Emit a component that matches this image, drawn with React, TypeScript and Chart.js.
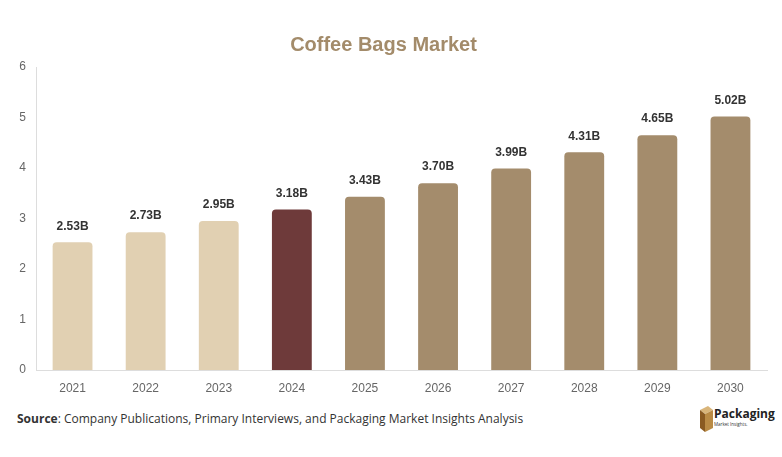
import React, { useEffect, useRef } from "react";
import { Chart, registerables } from "chart.js";

Chart.register(...registerables);

const years = ["2021", "2022", "2023", "2024", "2025", "2026", "2027", "2028", "2029", "2030"];
const values = [2.53, 2.73, 2.95, 3.18, 3.43, 3.7, 3.99, 4.31, 4.65, 5.02];
const barColors = [
  "#e1d0b2", "#e1d0b2", "#e1d0b2",
  "#6e3a3a",
  "#a48c6c", "#a48c6c", "#a48c6c", "#a48c6c", "#a48c6c", "#a48c6c",
];
const yTicks = [0, 1, 2, 3, 4, 5, 6];
const titleText = "Coffee Bags Market";

const labelPlugin = {
  id: "barLabels",
  afterDatasetsDraw(chart: any) {
    const ctx = chart.ctx;
    const meta = chart.getDatasetMeta(0);
    ctx.save();
    ctx.font = "bold 12px 'Liberation Sans', Arial, sans-serif";
    ctx.fillStyle = "#333333";
    ctx.textAlign = "center";
    ctx.textBaseline = "middle";
    meta.data.forEach((bar: any, i: number) => {
      ctx.fillText(values[i].toFixed(2) + "B", bar.x, bar.y - 16);
    });
    ctx.restore();
  },
};

export default function App() {
  const ref = useRef<HTMLCanvasElement>(null);
  useEffect(() => {
    const chart = new Chart(ref.current!, {
      type: "bar",
      data: {
        labels: years,
        datasets: [
          {
            data: values,
            backgroundColor: barColors,
            borderRadius: 4,
            categoryPercentage: 1,
            barPercentage: 0.545,
          },
        ],
      },
      options: {
        animation: false,
        responsive: false,
        maintainAspectRatio: false,
        layout: { padding: { left: 0, right: 15, top: 0, bottom: 0 } },
        plugins: {
          legend: { display: false },
          tooltip: { enabled: false },
          title: {
            display: true,
            text: titleText,
            color: "#a38b6a",
            font: { family: "'Liberation Sans', Arial, sans-serif", size: 20, weight: "bold" },
            padding: { top: 33, bottom: 10 },
          },
        },
        scales: {
          x: {
            grid: { display: false, drawTicks: false },
            border: { color: "#dddddd" },
            ticks: {
              color: "#666666",
              padding: 11,
              font: { family: "'Liberation Sans', Arial, sans-serif", size: 12 },
            },
            afterFit: (s: any) => { s.height = 30; },
          },
          y: {
            min: 0,
            max: 6,
            afterBuildTicks: (s: any) => { s.ticks = yTicks.map((v) => ({ value: v })); },
            grid: { display: false, drawTicks: false },
            border: { color: "#dddddd" },
            ticks: {
              color: "#666666",
              padding: 10,
              font: { family: "'Liberation Sans', Arial, sans-serif", size: 12 },
            },
            afterFit: (s: any) => { s.width = 36; },
          },
        },
      },
      plugins: [labelPlugin],
    } as any);
    return () => chart.destroy();
  }, []);

  return (
    <div style={{ position: "fixed", left: 0, top: 0, width: 782, height: 457, background: "#fff", overflow: "hidden" }}>
      <canvas ref={ref} width={782} height={400} style={{ position: "absolute", left: 0, top: 0 }} />
      <div
        style={{
          position: "absolute",
          left: 17,
          top: 410,
          fontFamily: "'Open Sans', sans-serif",
          fontSize: 12,
          color: "#333",
          whiteSpace: "nowrap",
        }}
      >
        <b>Source</b>: Company Publications, Primary Interviews, and Packaging Market Insights Analysis
      </div>
      <svg width={20} height={28} viewBox="0 0 20 28" style={{ position: "absolute", left: 696, top: 406 }}>
        <polygon points="4,4 12,0 17,4 9,8" fill="#d9b57a" />
        <polygon points="4,4 9,8 9,26 4,22" fill="#8a5a22" />
        <polygon points="9,8 17,4 17,22 9,26" fill="#b98a45" />
      </svg>
      <div style={{ position: "absolute", left: 714, top: 408, fontFamily: "'Open Sans', sans-serif", whiteSpace: "nowrap", lineHeight: 1 }}>
        <div style={{ fontSize: 12, fontWeight: 700, color: "#222" }}>Packaging</div>
        <div style={{ fontSize: 4.5, color: "#333", marginTop: 2 }}>Market Insights.</div>
      </div>
    </div>
  );
}
